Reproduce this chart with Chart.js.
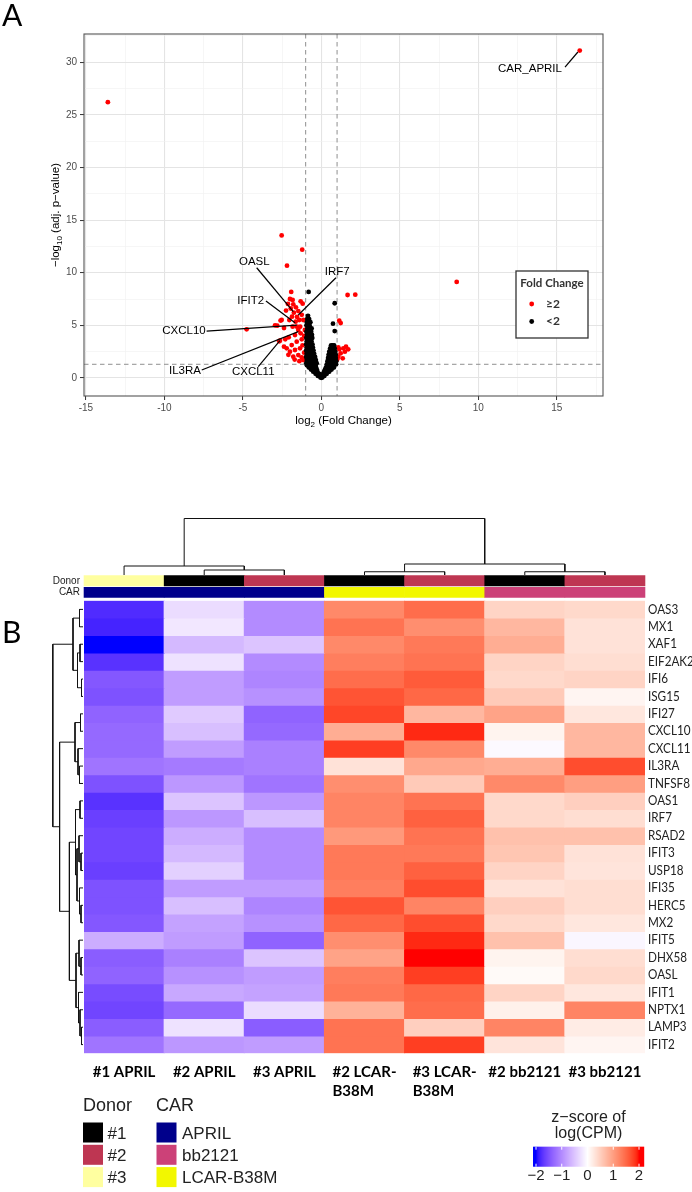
<!DOCTYPE html>
<html><head><meta charset="utf-8">
<script src="https://cdn.jsdelivr.net/npm/chart.js@4.4.0/dist/chart.umd.min.js"></script>
<style>
html,body{margin:0;padding:0;background:#fff;}
#wrap{position:relative;width:692px;height:1192px;overflow:hidden;background:#fff;}
#wrap canvas{position:absolute;left:0;top:0;}
</style></head><body><div id="wrap">
<canvas id="volcano" width="692" height="1192"></canvas>
<canvas id="heat" width="692" height="1192"></canvas>
<canvas id="cdend" width="692" height="1192"></canvas>
<canvas id="rdend" width="692" height="1192"></canvas>
</div>
<script>
// ---------------- DATA: volcano ----------------
const sigPoints = [
 [-13.6,26.2],[16.46,31.1],[8.62,9.12],
 [-2.53,13.54],[-1.22,12.19],[-2.19,10.67],
 [-1.92,8.17],[-2.00,7.50],[-1.83,7.41],[-2.13,7.03],[-1.79,7.00],[-1.32,7.28],[-1.19,7.06],
 [-1.62,6.71],[-1.75,6.20],[-1.47,6.36],[-1.87,5.82],[-2.53,5.51],[-2.81,4.97],[-2.38,4.75],
 [-2.04,5.51],[-1.64,5.35],[-1.41,5.51],[-1.83,4.87],[-1.47,4.56],[-1.32,4.24],[-1.68,4.08],
 [-2.08,3.86],[-2.30,3.67],[-2.68,3.49],[-2.38,2.97],[-2.21,2.82],[-1.89,3.13],[-1.57,3.45],
 [-1.25,3.67],[-2.00,2.50],[-1.68,2.66],[-1.36,2.82],[-1.47,2.18],[-1.25,1.96],[-1.79,2.02],
 [-1.15,1.71],[-1.56,4.87],[-1.35,4.87],[-1.15,5.51],[-1.05,4.56],
 [-4.76,4.62],[-2.95,5.00],[-2.64,3.54],[-2.60,5.45],
 [1.67,7.88],[2.16,7.91],[1.14,5.44],[1.23,5.22],
 [1.08,2.91],[1.40,2.82],[1.57,2.97],[1.71,2.72],[1.50,2.50],[1.23,2.34],[1.08,2.02],[1.36,1.87],[1.01,1.77],[1.14,2.72],
 [-1.10,2.40],[-1.20,3.10],[-1.10,4.00],[-1.25,6.00],[-1.55,5.80],[-2.25,6.40],[-1.95,6.60],[-1.40,1.60],[-1.70,1.75],[-2.10,2.20]
];
const nonSigPoints = [
 [-0.81,8.17],[0.85,7.10],[0.74,5.16],[0.85,4.46],
 [-0.85,5.90],[-0.90,5.60],[-0.78,5.60],[-0.92,5.30],[-0.80,5.30],[-0.70,5.30],
 [-0.95,5.00],[-0.85,5.00],[-0.75,5.00],
 [-0.90,4.70],[-0.80,4.70],[-0.70,4.70],[-0.62,4.70],
 [-0.95,4.40],[-0.85,4.40],[-0.75,4.40],[-0.65,4.40],
 [-0.92,4.10],[-0.82,4.10],[-0.72,4.10],[-0.60,4.10],
 [-0.96,3.80],[-0.86,3.80],[-0.76,3.80],[-0.66,3.80],[-0.58,3.80],
 [-0.93,3.50],[-0.83,3.50],[-0.73,3.50],[-0.63,3.50],
 [-0.97,3.20],[-0.87,3.20],[-0.77,3.20],[-0.67,3.20],[-0.57,3.20],
 [-0.94,2.90],[-0.84,2.90],[-0.74,2.90],[-0.64,2.90],[-0.54,2.90],
 [-0.97,2.60],[-0.87,2.60],[-0.77,2.60],[-0.67,2.60],[-0.57,2.60],[-0.50,2.60],
 [-0.94,2.30],[-0.84,2.30],[-0.74,2.30],[-0.64,2.30],[-0.54,2.30],[-0.46,2.30],
 [-0.97,2.00],[-0.87,2.00],[-0.77,2.00],[-0.67,2.00],[-0.57,2.00],[-0.47,2.00],[-0.40,2.00],
 [-0.93,1.70],[-0.83,1.70],[-0.73,1.70],[-0.63,1.70],[-0.53,1.70],[-0.43,1.70],[-0.35,1.70],
 [-0.96,1.40],[-0.86,1.40],[-0.76,1.40],[-0.66,1.40],[-0.56,1.40],[-0.46,1.40],[-0.36,1.40],[-0.30,1.40],
 [-0.92,1.20],[-0.82,1.20],[-0.72,1.20],[-0.62,1.20],[-0.52,1.20],[-0.44,1.20],[-0.36,1.15],
 [-0.80,1.00],[-0.70,1.00],[-0.60,1.00],[-0.50,1.00],[-0.42,1.00],[-0.34,1.00],
 [-0.66,0.80],[-0.56,0.80],[-0.46,0.80],[-0.38,0.80],[-0.29,0.80],
 [-0.52,0.60],[-0.43,0.60],[-0.34,0.60],[-0.25,0.60],
 [-0.37,0.40],[-0.29,0.40],[-0.20,0.40],[-0.13,0.40],
 [-0.22,0.20],[-0.14,0.20],[-0.07,0.20],
 [-0.06,0.05],[0.00,0.02],[0.06,0.05],
 [0.07,0.20],[0.13,0.20],[0.19,0.20],
 [0.11,0.40],[0.18,0.40],[0.26,0.40],[0.34,0.40],
 [0.17,0.60],[0.26,0.60],[0.35,0.60],[0.44,0.60],[0.50,0.60],
 [0.23,0.80],[0.32,0.80],[0.41,0.80],[0.50,0.80],[0.58,0.80],[0.65,0.80],
 [0.29,1.00],[0.38,1.00],[0.47,1.00],[0.56,1.00],[0.65,1.00],[0.74,1.00],[0.80,1.00],
 [0.35,1.30],[0.45,1.30],[0.55,1.30],[0.65,1.30],[0.75,1.30],[0.85,1.30],[0.94,1.30],
 [0.39,1.60],[0.49,1.60],[0.59,1.60],[0.69,1.60],[0.79,1.60],[0.89,1.60],[0.95,1.60],
 [0.43,1.90],[0.53,1.90],[0.63,1.90],[0.73,1.90],[0.83,1.90],[0.92,1.90],
 [0.46,2.20],[0.56,2.20],[0.66,2.20],[0.76,2.20],[0.86,2.20],[0.92,2.20],
 [0.50,2.50],[0.60,2.50],[0.70,2.50],[0.80,2.50],[0.89,2.50],
 [0.56,2.80],[0.66,2.80],[0.76,2.80],[0.85,2.80],
 [0.62,3.10],[0.72,3.10],[0.81,3.10]
];
const geneLabels = [
 {text:'CAR_APRIL', tx:13.29, ty:29.34, x1:15.52, y1:29.53, x2:16.34, y2:30.96},
 {text:'OASL',  tx:-4.27, ty:10.99, x1:-4.12, y1:10.47, x2:-1.79, y2:6.30},
 {text:'IRF7',  tx:1.01,  ty:10.04, x1:0.93,  y1:9.52,  x2:-1.47, y2:5.98},
 {text:'IFIT2', tx:-4.50, ty:7.31,  x1:-3.53, y1:7.31,  x2:-1.68, y2:5.25},
 {text:'CXCL10',tx:-8.75, ty:4.46,  x1:-7.31, y1:4.46,  x2:-1.57, y2:5.03},
 {text:'IL3RA', tx:-8.69, ty:0.66,  x1:-7.62, y1:0.76,  x2:-1.47, y2:4.40},
 {text:'CXCL11',tx:-4.34, ty:0.60,  x1:-4.02, y1:1.07,  x2:-2.64, y2:3.54}
];
const xTickLabels = [-15,-10,-5,0,5,10,15];
const yTickLabels = [0,5,10,15,20,25,30];
const xGridValues = [-15,-12.5,-10,-7.5,-5,-2.5,0,2.5,5,7.5,10,12.5,15,17.5];
const yGridValues = [0,2.5,5,7.5,10,12.5,15,17.5,20,22.5,25,27.5,30,32.5];
const fcCutoffs = [-1, 1];
const padjCutoff = 1.301;
const legendLabels = ['\u22652','<2'];

// ---------------- DATA: heatmap ----------------
const genes = ['OAS3','MX1','XAF1','EIF2AK2','IFI6','ISG15','IFI27','CXCL10','CXCL11','IL3RA','TNFSF8','OAS1','IRF7','RSAD2','IFIT3','USP18','IFI35','HERC5','MX2','IFIT5','DHX58','OASL','IFIT1','NPTX1','LAMP3','IFIT2'];
const sampleLabels = [['#1 APRIL'],['#2 APRIL'],['#3 APRIL'],['#2 LCAR-','B38M'],['#3 LCAR-','B38M'],['#2 bb2121'],['#3 bb2121']];
const zScores = [
 [-1.80,-0.30,-1.00, 1.20, 1.45, 0.45, 0.40],
 [-1.85,-0.20,-1.00, 1.40, 1.15, 0.75, 0.30],
 [-2.00,-0.60,-0.50, 1.20, 1.35, 0.85, 0.30],
 [-1.75,-0.25,-1.00, 1.30, 1.40, 0.45, 0.35],
 [-1.45,-0.85,-1.05, 1.45, 1.60, 0.40, 0.45],
 [-1.50,-0.85,-0.95, 1.65, 1.50, 0.55, 0.10],
 [-1.35,-0.45,-1.35, 1.75, 0.75, 0.95, 0.25],
 [-1.30,-0.55,-1.30, 0.85, 1.90, 0.12, 0.75],
 [-1.30,-0.85,-1.10, 1.80, 1.20,-0.05, 0.75],
 [-1.20,-1.15,-1.10, 0.30, 0.90, 0.85, 1.70],
 [-1.50,-0.90,-1.20, 1.15, 0.55, 1.20, 1.00],
 [-1.75,-0.50,-0.90, 1.25, 1.40, 0.40, 0.50],
 [-1.65,-0.90,-0.55, 1.25, 1.55, 0.40, 0.35],
 [-1.60,-0.70,-1.00, 1.05, 1.40, 0.65, 0.65],
 [-1.60,-0.60,-1.00, 1.35, 1.35, 0.60, 0.30],
 [-1.65,-0.40,-1.00, 1.35, 1.55, 0.45, 0.28],
 [-1.50,-0.85,-0.85, 1.30, 1.70, 0.30, 0.35],
 [-1.50,-0.55,-1.05, 1.65, 1.25, 0.50, 0.35],
 [-1.45,-0.80,-0.95, 1.50, 1.70, 0.40, 0.25],
 [-0.70,-0.85,-1.35, 1.15, 1.90, 0.65,-0.08],
 [-1.40,-1.10,-0.50, 0.95, 2.00, 0.12, 0.35],
 [-1.35,-0.95,-0.85, 1.30, 1.80, 0.05, 0.40],
 [-1.55,-0.75,-0.80, 1.35, 1.50, 0.45, 0.25],
 [-1.60,-1.30,-0.30, 0.80, 1.45, 0.15, 1.25],
 [-1.40,-0.25,-1.40, 1.40, 0.50, 1.25, 0.20],
 [-1.20,-0.90,-0.85, 1.40, 1.80, 0.28, 0.10]
];
const donorLevels = ['#1','#2','#3'];
const carLevels = ['APRIL','bb2121','LCAR-B38M'];
const sampleDonor = ['#3','#1','#2','#1','#2','#1','#2'];
const sampleCar = ['APRIL','APRIL','APRIL','LCAR-B38M','LCAR-B38M','bb2121','bb2121'];
const colorTicks = [-2,-1,0,1,2];
// dendrograms (hclust-style merges: negative = leaf, positive = earlier merge; last = height)
const colMerges = [[-2,-3,2.0],[-1,1,3.6],[-4,-5,1.3],[-6,-7,1.3],[3,4,4.4],[2,5,22.6]];
const rowMerges = [
 [-1,-2,3.5],[-3,-4,3],[-5,-6,1.5],[2,3,5.5],[1,4,10],
 [-7,-8,2.5],[-10,-11,3.5],[-9,7,5],[6,8,8],
 [-12,-13,3],[-15,-16,2],[-14,11,4],[-18,-19,2],[-17,13,3.5],[12,14,6],[10,15,7.5],
 [-21,-22,2],[-20,17,4],[-25,-26,1.5],[-24,19,3],[-23,20,4.5],[18,21,7],
 [16,22,13.6],[9,23,23.4],[5,24,30.2]
];

// ---------------- styles ----------------
const donorColors = {'#1':'#000000','#2':'#BE3652','#3':'#FFFFA0'};
const carColors = {'APRIL':'#00008B','bb2121':'#CC4178','LCAR-B38M':'#F2F700'};
const W = 692, H = 1192;
const V = {left:84, right:603, top:34, bottom:396};
const HM = {left:84, right:645, top:600.7, bottom:1053.3};
const LAB_FONT = '"Liberation Sans", Arial, sans-serif';
Chart.defaults.font.family = LAB_FONT;

// LAB colour ramp (blue - white - red)
function s2l(c){c/=255;return c<=0.04045?c/12.92:Math.pow((c+0.055)/1.055,2.4);}
function l2s(c){c=Math.max(0,Math.min(1,c));return 255*(c<=0.0031308?12.92*c:1.055*Math.pow(c,1/2.4)-0.055);}
const Wn=[0.95047,1,1.08883];
function rgb2lab([r,g,b]){const R=s2l(r),G=s2l(g),B=s2l(b);
 const X=(0.4124564*R+0.3575761*G+0.1804375*B)/Wn[0],Y=(0.2126729*R+0.7151522*G+0.0721750*B)/Wn[1],Z=(0.0193339*R+0.1191920*G+0.9503041*B)/Wn[2];
 const f=t=>t>216/24389?Math.cbrt(t):(24389/27*t+16)/116;const fx=f(X),fy=f(Y),fz=f(Z);
 return [116*fy-16,500*(fx-fy),200*(fy-fz)];}
function lab2rgb([L,a,b]){const fy=(L+16)/116,fx=fy+a/500,fz=fy-b/200;
 const fi=t=>t*t*t>216/24389?t*t*t:(116*t-16)/(24389/27);
 const X=fi(fx)*Wn[0],Y=fi(fy)*Wn[1],Z=fi(fz)*Wn[2];
 const R=3.2404542*X-1.5371385*Y-0.4985314*Z,G=-0.9692660*X+1.8760108*Y+0.0415560*Z,B=0.0556434*X-0.2040259*Y+1.0572252*Z;
 return [l2s(R),l2s(G),l2s(B)].map(Math.round);}
const LW=rgb2lab([255,255,255]),LB=rgb2lab([0,0,255]),LR=rgb2lab([255,0,0]);
function zColor(z){z=Math.max(-2,Math.min(2,z));const t=Math.abs(z)/2;const E=z<0?LB:LR;
 const c=lab2rgb([0,1,2].map(i=>LW[i]+(E[i]-LW[i])*t));return `rgb(${c[0]},${c[1]},${c[2]})`;}

// ---------------- volcano ----------------
const isMajor = v => Math.abs(v % 5) < 1e-9;
function subText(ctx, parts, cx, cy, rot){
 ctx.save(); ctx.translate(cx,cy); if(rot) ctx.rotate(-Math.PI/2);
 let tot=0; parts.forEach(p=>{ctx.font=`${p.s}px ${LAB_FONT}`;p.w=ctx.measureText(p.t).width;tot+=p.w;});
 let x=-tot/2; ctx.textBaseline='alphabetic'; ctx.textAlign='left'; ctx.fillStyle='#000';
 parts.forEach(p=>{ctx.font=`${p.s}px ${LAB_FONT}`;ctx.fillText(p.t,x,4+(p.dy||0));x+=p.w;});
 ctx.restore();
}
const volcanoDecor = {
 id:'volcanoDecor',
 beforeDatasetsDraw(chart){
  const {ctx, chartArea:a, scales:{x,y}} = chart;
  ctx.save(); ctx.beginPath(); ctx.rect(a.left,a.top,a.right-a.left,a.bottom-a.top); ctx.clip();
  ctx.strokeStyle='#8f8f8f'; ctx.lineWidth=1; ctx.setLineDash([4.5,3.5]);
  fcCutoffs.forEach(v=>{const px=x.getPixelForValue(v);ctx.beginPath();ctx.moveTo(px,a.top);ctx.lineTo(px,a.bottom);ctx.stroke();});
  const py=y.getPixelForValue(padjCutoff);ctx.beginPath();ctx.moveTo(a.left,py);ctx.lineTo(a.right,py);ctx.stroke();
  ctx.restore();
 },
 afterDatasetsDraw(chart){
  const {ctx, chartArea:a, scales:{x,y}} = chart;
  ctx.save();
  ctx.strokeStyle='#000'; ctx.lineWidth=1.2; ctx.fillStyle='#000';
  ctx.font=`11.5px ${LAB_FONT}`; ctx.textAlign='center'; ctx.textBaseline='middle';
  geneLabels.forEach(l=>{
   ctx.beginPath();ctx.moveTo(x.getPixelForValue(l.x1),y.getPixelForValue(l.y1));ctx.lineTo(x.getPixelForValue(l.x2),y.getPixelForValue(l.y2));ctx.stroke();
   ctx.fillText(l.text,x.getPixelForValue(l.tx),y.getPixelForValue(l.ty));
  });
  ctx.strokeStyle='#555'; ctx.lineWidth=1.1; ctx.strokeRect(a.left,a.top,a.right-a.left,a.bottom-a.top);
  const L={x:516,y:271,w:72,h:67};
  ctx.fillStyle='#fff'; ctx.fillRect(L.x,L.y,L.w,L.h);
  ctx.strokeStyle='#333'; ctx.lineWidth=1.3; ctx.strokeRect(L.x,L.y,L.w,L.h);
  ctx.fillStyle='#333'; ctx.font='bold 11.5px Lato'; ctx.textAlign='center'; ctx.fillText('Fold Change',L.x+L.w/2,L.y+12);
  const cols=['#ff0000','#000000'];
  legendLabels.forEach((t,i)=>{const yy=L.y+33+i*17.5;
   ctx.fillStyle=cols[i];ctx.beginPath();ctx.arc(L.x+15.7,yy,2.4,0,Math.PI*2);ctx.fill();
   ctx.fillStyle='#333';ctx.font='bold 12px Lato';ctx.textAlign='left';ctx.fillText(t,L.x+30,yy);});
  ctx.restore();
  subText(ctx,[{t:'\u2212log',s:11.5},{t:'10',s:8,dy:3},{t:' (adj. p\u2212value)',s:11.5}],55,(a.top+a.bottom)/2,true);
  subText(ctx,[{t:'log',s:11.5},{t:'2',s:8,dy:3},{t:' (Fold Change)',s:11.5}],(a.left+a.right)/2,420,false);
  ctx.save(); ctx.fillStyle='#000'; ctx.font='30px Lato'; ctx.textAlign='left'; ctx.textBaseline='alphabetic';
  ctx.fillText('A',2,26); ctx.restore();
 }
};
const gridOpts = {
 color: c => isMajor(c.tick.value)?'#e4e4e4':'#f0f0f0',
 lineWidth: c => isMajor(c.tick.value)?1.1:0.6,
 tickColor: c => isMajor(c.tick.value)?'#333':'rgba(0,0,0,0)',
 tickLength:4, tickWidth:1
};
new Chart(document.getElementById('volcano'),{
 type:'scatter',
 data:{datasets:[
  {label:'<2',data:nonSigPoints.map(([x,y])=>({x,y})),backgroundColor:'#000',borderColor:'#000',pointRadius:2.4,pointBorderWidth:0,pointHoverRadius:2.4},
  {label:'\u22652',data:sigPoints.map(([x,y])=>({x,y})),backgroundColor:'#ff0000',borderColor:'#ff0000',pointRadius:2.4,pointBorderWidth:0,pointHoverRadius:2.4}
 ]},
 options:{
  responsive:false, animation:false, events:[],
  layout:{padding:{left:0,right:W-V.right,top:V.top,bottom:H-V.bottom-44}},
  plugins:{legend:{display:false},tooltip:{enabled:false}},
  scales:{
   x:{type:'linear',min:-15.12,max:17.94,
      afterBuildTicks:s=>{s.ticks=xGridValues.map(v=>({value:v}));},
      afterFit:s=>{s.height=44;},
      ticks:{autoSkip:false,maxRotation:0,minRotation:0,padding:2,color:'#4d4d4d',font:{size:10},
             callback:v=>xTickLabels.includes(v)?String(v):''},
      grid:gridOpts, border:{display:false}},
   y:{type:'linear',min:-1.71,max:32.67,
      afterBuildTicks:s=>{s.ticks=yGridValues.map(v=>({value:v}));},
      afterFit:s=>{s.width=V.left;},
      ticks:{autoSkip:false,padding:3,color:'#4d4d4d',font:{size:10},
             callback:v=>yTickLabels.includes(v)?String(v):''},
      grid:gridOpts, border:{display:false}}
  }
 },
 plugins:[volcanoDecor]
});

// ---------------- heatmap ----------------
const rowH = (HM.bottom-HM.top)/genes.length;
const toRow = py => (py-HM.top)/rowH;
const DONOR_ROWS=[toRow(575.5),toRow(586)];
const CAR_ROWS=[toRow(587.3),toRow(597.5)];
const CB={x0:533,x1:644,y0:1146.7,y1:1166.7,zero:587.5,unit:25.75};
const heatDecor = {
 id:'heatDecor',
 afterDraw(chart){
  const {ctx, chartArea:a, scales:{x,y}} = chart;
  ctx.save();
  ctx.fillStyle='#222'; ctx.font='13px Lato'; ctx.textAlign='left'; ctx.textBaseline='middle';
  genes.forEach((g,i)=>{ctx.save();ctx.translate(a.right+3,y.getPixelForValue(i+0.5));ctx.scale(0.9,1);ctx.fillText(g,0,0);ctx.restore();});
  ctx.font=`10px ${LAB_FONT}`; ctx.textAlign='right';
  ctx.fillText('Donor',a.left-4,y.getPixelForValue((DONOR_ROWS[0]+DONOR_ROWS[1])/2));
  ctx.fillText('CAR',a.left-4,y.getPixelForValue((CAR_ROWS[0]+CAR_ROWS[1])/2));
  ctx.fillStyle='#000'; ctx.font='bold 15px Lato';
  sampleLabels.forEach((lines,k)=>{const cx=x.getPixelForValue(k);const w=ctx.measureText(lines[0]).width;
   ctx.textAlign='left';lines.forEach((ln,j)=>ctx.fillText(ln,cx-w/2,1071.7+j*19));});
  ctx.font='30px Lato'; ctx.textAlign='left'; ctx.textBaseline='alphabetic'; ctx.fillText('B',2,643);
  ctx.fillStyle='#222'; ctx.font=`18px ${LAB_FONT}`; ctx.textBaseline='middle';
  ctx.fillText('Donor',83,1106); ctx.fillText('CAR',156,1106);
  ctx.font=`17px ${LAB_FONT}`;
  donorLevels.forEach((d,i)=>{const top=1122.5+i*22.3;ctx.fillStyle=donorColors[d];ctx.fillRect(83,top,20,20);
   ctx.fillStyle='#222';ctx.fillText(d,107.5,top+11.5);});
  carLevels.forEach((c,i)=>{const top=1122.5+i*22.3;ctx.fillStyle=carColors[c];ctx.fillRect(156.5,top,20,20);
   ctx.fillStyle='#222';ctx.fillText(c,182,top+11.5);});
  ctx.font=`16px ${LAB_FONT}`; ctx.textAlign='center'; ctx.fillStyle='#222';
  ctx.fillText('z\u2212score of',(CB.x0+CB.x1)/2,1118); ctx.fillText('log(CPM)',(CB.x0+CB.x1)/2,1134);
  for(let px=CB.x0;px<CB.x1;px++){ctx.fillStyle=zColor((px+0.5-CB.zero)/CB.unit);ctx.fillRect(px,CB.y0,1.2,CB.y1-CB.y0);}
  ctx.strokeStyle='#fff'; ctx.lineWidth=1;
  ctx.font=`15px ${LAB_FONT}`; ctx.fillStyle='#222';
  colorTicks.forEach(v=>{const px=CB.zero+v*CB.unit;
   ctx.beginPath();ctx.moveTo(px,CB.y0);ctx.lineTo(px,CB.y0+3);ctx.moveTo(px,CB.y1-3);ctx.lineTo(px,CB.y1);ctx.stroke();
   ctx.fillText(v<0?'\u2212'+Math.abs(v):String(v),px,1175.5);});
  ctx.restore();
 }
};
const heatDatasets = zScores.map((row,i)=>({
 label:genes[i], data:row.map(()=>[i,i+1]), backgroundColor:row.map(zColor),
 borderWidth:0, inflateAmount:0.5, barPercentage:1, categoryPercentage:1, grouped:false
}));
heatDatasets.push({label:'Donor',data:sampleDonor.map(()=>DONOR_ROWS),backgroundColor:sampleDonor.map(d=>donorColors[d]),
 borderWidth:0,inflateAmount:0.3,barPercentage:1,categoryPercentage:1,grouped:false,clip:false});
heatDatasets.push({label:'CAR',data:sampleCar.map(()=>CAR_ROWS),backgroundColor:sampleCar.map(c=>carColors[c]),
 borderWidth:0,inflateAmount:0.3,barPercentage:1,categoryPercentage:1,grouped:false,clip:false});
new Chart(document.getElementById('heat'),{
 type:'bar',
 data:{labels:sampleLabels.map(l=>l.join('')),datasets:heatDatasets},
 options:{responsive:false,animation:false,events:[],
  layout:{padding:{left:HM.left,right:W-HM.right,top:HM.top,bottom:H-HM.bottom}},
  plugins:{legend:{display:false},tooltip:{enabled:false}},
  scales:{x:{type:'category',display:false},y:{type:'linear',display:false,min:0,max:genes.length,reverse:true}}},
 plugins:[heatDecor]
});

// ---------------- dendrograms ----------------
function dendroSegments(merges){
 const nodes=[];const get=id=>id<0?{pos:-id,h:0}:nodes[id-1];const segs=[];
 merges.forEach(([a,b,h])=>{const A=get(a),B=get(b);segs.push([[A.pos,A.h],[A.pos,h],[B.pos,h],[B.pos,B.h]]);nodes.push({pos:(A.pos+B.pos)/2,h});});
 return segs;
}
const lineDs = pts => ({data:pts,showLine:true,borderColor:'#111',borderWidth:1,pointRadius:0,clip:false,tension:0,fill:false});
new Chart(document.getElementById('cdend'),{
 type:'scatter',
 data:{datasets:dendroSegments(colMerges).map(s=>lineDs(s.map(([p,h])=>({x:p,y:h}))))},
 options:{responsive:false,animation:false,events:[],
  layout:{padding:{left:HM.left,right:W-HM.right,top:505,bottom:H-575}},
  plugins:{legend:{display:false},tooltip:{enabled:false}},
  scales:{x:{type:'linear',display:false,min:0.5,max:7.5},y:{type:'linear',display:false,min:0,max:28}}}
});
new Chart(document.getElementById('rdend'),{
 type:'scatter',
 data:{datasets:dendroSegments(rowMerges).map(s=>lineDs(s.map(([p,h])=>({x:h,y:p-0.5}))))},
 options:{responsive:false,animation:false,events:[],
  layout:{padding:{left:40,right:W-83,top:HM.top,bottom:H-HM.bottom}},
  plugins:{legend:{display:false},tooltip:{enabled:false}},
  scales:{x:{type:'linear',display:false,reverse:true,min:0,max:43},y:{type:'linear',display:false,reverse:true,min:0,max:genes.length}}}
});
</script></body></html>
